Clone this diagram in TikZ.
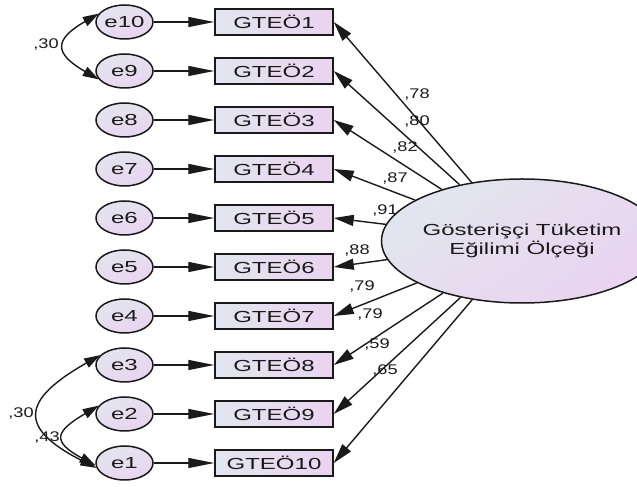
\documentclass[tikz,border=0pt]{standalone}
\usepackage{fontspec}
\setmainfont{Liberation Sans}
\usetikzlibrary{arrows.meta,shapes.geometric}
\definecolor{ca}{HTML}{E2E6EF}
\definecolor{cb}{HTML}{EAD3F0}
\definecolor{ink}{HTML}{1A1A1A}
\newcommand{\sx}[1]{\scalebox{1.5}[1]{#1}}
\newcommand{\lbx}[1]{\scalebox{1.3}[1]{#1}}
\begin{document}
\begin{tikzpicture}[x=1pt,y=1pt,
  errc/.style={ellipse, draw=ink, line width=1.5pt, minimum width=57pt, minimum height=34pt, inner sep=0pt,
    top color=ca, bottom color=cb, shading angle=20, text=ink, font=\fontsize{16}{19}\selectfont},
  obs/.style={rectangle, draw=ink, line width=1.5pt, minimum width=118pt, minimum height=26pt, inner sep=0pt,
    left color=ca, right color=cb, text=ink, font=\fontsize{16}{19}\selectfont},
  lat/.style={ellipse, draw=ink, line width=1.5pt, minimum width=224pt, minimum height=124pt, inner sep=0pt,
    top color=ca, bottom color=cb, shading angle=35, align=center, text=ink, font=\fontsize{16}{19}\selectfont},
  harr/.style={-{Triangle[length=26pt,width=10pt]}, line width=1.4pt, draw=ink},
  parr/.style={-{Triangle[length=20pt,width=11pt]}, line width=1.4pt, draw=ink},
  cov/.style={{Triangle[length=16pt,width=10pt]}-{Triangle[length=16pt,width=10pt]}, line width=1.4pt, draw=ink},
  lab/.style={font=\fontsize{14}{16}\selectfont, inner sep=0pt, text=ink}]
\useasboundingbox (0,0) rectangle (637,487);

% latent
\node[lat] (F) at (522,246) {\sx{Gösterişçi Tüketim}\\\sx{Eğilimi Ölçeği}};

% error terms and observed
\foreach \i/\e/\y in {1/10/465, 2/9/416, 3/8/367, 4/7/318, 5/6/269, 6/5/220, 7/4/171, 8/3/122, 9/2/73, 10/1/24}{
  \node[errc] (e\e) at (124.5,\y) {\sx{e\e}};
  \node[obs] (g\i) at (274,\y) {\sx{GTEÖ\i}};
  \draw[harr] (e\e) -- (g\i);
  \draw[parr] (F) -- (g\i.east);
}

% loadings
\node[lab] (l1) at (417,392) {\lbx{,78}};
\node[lab] (l2) at (417,365) {\lbx{,80}};
\node[lab] (l3) at (405,339) {\lbx{,82}};
\node[lab] (l4) at (395,308) {\lbx{,87}};
\node[lab] (l5) at (385,276) {\lbx{,91}};
\node[lab] (l6) at (357,236) {\lbx{,88}};
\node[lab] (l7) at (362,200) {\lbx{,79}};
\node[lab] (l8) at (370,172) {\lbx{,79}};
\node[lab] (l9) at (377,142) {\lbx{,59}};
\node[lab] (l10) at (385,116) {\lbx{,65}};

% covariances
\draw[cov] (e10.162) .. controls +(-45,-26) and +(-45,26) .. (e9.198);
\draw[cov] (e3.158) .. controls +(-79,-45) and +(-79,40) .. (e1.190);
\draw[cov] (e2.162) .. controls +(-44,-26) and +(-44,24) .. (e1.185);
\node[lab] (c1) at (46,442) {\lbx{,30}};
\node[lab] (c2) at (21,73) {\lbx{,30}};
\node[lab] (c3) at (47,49) {\lbx{,43}};
\end{tikzpicture}
\end{document}
